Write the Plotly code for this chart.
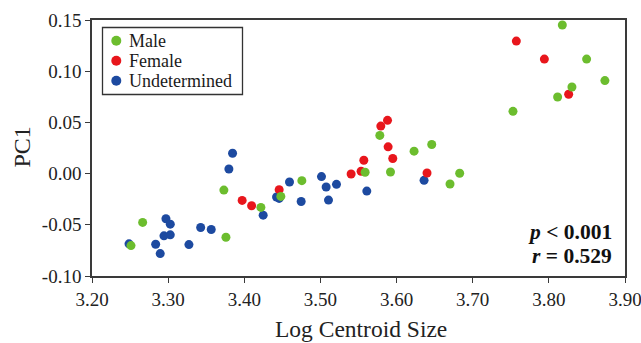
import plotly.graph_objects as go

# ---- data ----
male_x = [3.2512, 3.2665, 3.3732, 3.3759, 3.4218, 3.4480, 3.4756, 3.5587, 3.5780, 3.5920,
          3.6230, 3.6462, 3.6702, 3.6829, 3.7529, 3.8177, 3.8496, 3.8736, 3.8303, 3.8115]
male_y = [-0.0703, -0.0477, -0.0161, -0.0622, -0.0330, -0.0223, -0.0069, 0.0013, 0.0373, 0.0016,
          0.0219, 0.0284, -0.0102, 0.0003, 0.0608, 0.1451, 0.1118, 0.0908, 0.0846, 0.0748]

female_x = [3.3972, 3.4096, 3.4458, 3.5403, 3.5534, 3.5570, 3.5793, 3.5881, 3.5889, 3.5950,
            3.6400, 3.7573, 3.7941, 3.8260]
female_y = [-0.0262, -0.0314, -0.0157, -0.0004, 0.0023, 0.0130, 0.0464, 0.0520, 0.0261, 0.0147,
            0.0006, 0.1294, 0.1118, 0.0775]

undet_x = [3.2486, 3.2836, 3.2896, 3.2945, 3.3028, 3.2971, 3.3028, 3.3273, 3.3427, 3.3566,
           3.3798, 3.3846, 3.4248, 3.4424, 3.4458, 3.4594, 3.4747, 3.5014, 3.5075, 3.5106,
           3.5211, 3.5609, 3.6361]
undet_y = [-0.0686, -0.0690, -0.0781, -0.0608, -0.0598, -0.0441, -0.0494, -0.0693, -0.0526, -0.0546,
           0.0045, 0.0199, -0.0406, -0.0229, -0.0242, -0.0082, -0.0272, -0.0029, -0.0131, -0.0259,
           -0.0105, -0.0171, -0.0066]

x_ticks = [3.20, 3.30, 3.40, 3.50, 3.60, 3.70, 3.80, 3.90]
x_ticktext = ["3.20", "3.30", "3.40", "3.50", "3.60", "3.70", "3.80", "3.90"]
y_ticks = [-0.10, -0.05, 0.00, 0.05, 0.10, 0.15]
y_ticktext = ["-0.10", "-0.05", "0.00", "0.05", "0.10", "0.15"]

legend_labels = ["Male", "Female", "Undetermined"]
x_title = "Log Centroid Size"
y_title = "PC1"

FONT = "Liberation Serif"
GREEN = "#6cbd2e"
RED = "#e8161c"
BLUE = "#1d4aa0"
legend_colors = [GREEN, RED, BLUE]

fig = go.Figure()
fig.add_trace(go.Scatter(x=undet_x, y=undet_y, mode="markers", name="Undetermined",
                         marker=dict(color=BLUE, size=9, line=dict(width=0))))
fig.add_trace(go.Scatter(x=female_x, y=female_y, mode="markers", name="Female",
                         marker=dict(color=RED, size=9, line=dict(width=0))))
fig.add_trace(go.Scatter(x=male_x, y=male_y, mode="markers", name="Male",
                         marker=dict(color=GREEN, size=9, line=dict(width=0))))

axis_common = dict(showgrid=False, zeroline=False, showline=True, linecolor="#3a3a3a",
                   linewidth=1.5, mirror=True, ticks="outside", ticklen=5, tickwidth=1.2,
                   tickcolor="#3a3a3a", tickfont=dict(family=FONT, size=19, color="#222"),
                   automargin=False, ticklabeloverflow="allow")

fig.update_layout(
    width=641, height=343,
    margin=dict(l=92, r=16, t=20, b=67),
    paper_bgcolor="white", plot_bgcolor="white",
    font=dict(family=FONT, color="#222"),
    showlegend=False,
    xaxis=dict(range=[3.20, 3.90], tickvals=x_ticks, ticktext=x_ticktext, **axis_common),
    yaxis=dict(range=[-0.10, 0.15], tickvals=y_ticks, ticktext=y_ticktext, **axis_common),
)

# ---- pixel helpers for paper coordinates ----
plot_l, plot_w, plot_t, plot_h = 92, 533, 20, 256
def px(xp):
    return (xp - plot_l) / plot_w
def py(yp):
    return 1 - (yp - plot_t) / plot_h

# axis titles
fig.add_annotation(xref="paper", yref="paper", x=px(361), y=py(328.5), xanchor="center", yanchor="middle",
                   text=x_title, showarrow=False, borderpad=0,
                   font=dict(family=FONT, size=23.5, color="#222"))
fig.add_annotation(xref="paper", yref="paper", x=px(21), y=py(147.5), xanchor="center", yanchor="middle",
                   text=y_title, textangle=-90, showarrow=False, borderpad=0,
                   font=dict(family=FONT, size=24, color="#222"))

# custom legend
fig.add_shape(type="rect", xref="paper", yref="paper",
              x0=px(102.5), x1=px(242.5), y0=py(94.5), y1=py(27.5),
              line=dict(color="#333", width=1.3), fillcolor="white", layer="above")
for i, (lab, col) in enumerate(zip(legend_labels, legend_colors)):
    cy = 40.8 + i * 20.0
    fig.add_shape(type="circle", xref="paper", yref="paper",
                  xsizemode="pixel", ysizemode="pixel",
                  xanchor=px(116.3), yanchor=py(cy),
                  x0=-5, x1=5, y0=-5, y1=5,
                  line=dict(width=0), fillcolor=col, layer="above")
    fig.add_annotation(xref="paper", yref="paper", x=px(128), y=py(cy),
                       xanchor="left", yanchor="middle", text=lab, showarrow=False,
                       borderpad=0, font=dict(family=FONT, size=18, color="#1a1a1a"))

fig.add_annotation(xref="paper", yref="paper", x=px(613), y=py(231.5), xanchor="right", yanchor="middle",
                   text="<b><i>p</i> &lt; 0.001</b>", showarrow=False, borderpad=0,
                   font=dict(family=FONT, size=21.5, color="#111"))
fig.add_annotation(xref="paper", yref="paper", x=px(613), y=py(256), xanchor="right", yanchor="middle",
                   text="<b><i>r</i> = 0.529</b>", showarrow=False, borderpad=0,
                   font=dict(family=FONT, size=21.5, color="#111"))

fig.write_html("out.html")
